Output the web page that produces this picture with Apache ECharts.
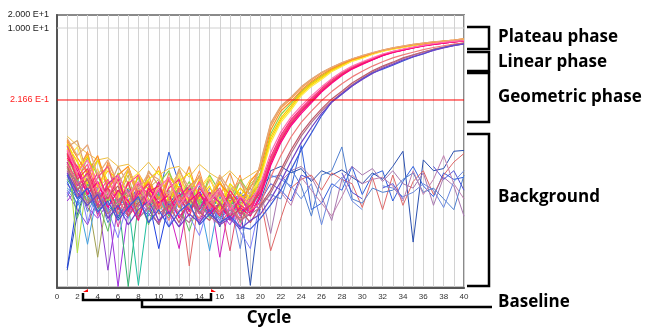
<!DOCTYPE html>
<html><head><meta charset="utf-8">
<script src="https://cdn.jsdelivr.net/npm/echarts@6/dist/echarts.min.js"></script>
<style>html,body{margin:0;padding:0;background:#fff}#c{width:651px;height:327px}</style>
</head><body><div id="c"></div>
<script>
// ---- axis data ----
const cycles = [1,2,3,4,5,6,7,8,9,10,11,12,13,14,15,16,17,18,19,20,21,22,23,24,25,26,27,28,29,30,31,32,33,34,35,36,37,38,39,40];
const xTickLabels = ['0','2','4','6','8','10','12','14','16','18','20','22','24','26','28','30','32','34','36','38','40'];
const yTickValues = [20, 10, 0.2166];
const yTickLabels = ['2.000 E+1', '1.000 E+1', '2.166 E-1'];
const thresholdValue = 0.2166;

// ---- amplification curves, log10(fluorescence) per cycle 1..40 ----
const amp01 = [-1.62,-2.25,-1.90,-2.70,-2.15,-2.85,-2.30,-2.95,-2.40,-3.10,-2.35,-2.80,-2.20,-3.05,-2.50,-2.90,-2.35,-3.00,-2.70,-2.20,-1.27,-0.85,-0.64,-0.39,-0.20,-0.04,0.08,0.19,0.28,0.35,0.42,0.49,0.54,0.58,0.62,0.65,0.68,0.70,0.72,0.75];
const amp02 = [-1.75,-1.60,-2.40,-2.05,-2.75,-2.20,-2.60,-3.10,-2.30,-2.65,-2.95,-2.25,-2.85,-2.40,-3.15,-2.45,-2.90,-2.55,-3.05,-2.10,-1.20,-0.80,-0.60,-0.36,-0.18,-0.03,0.09,0.19,0.28,0.36,0.42,0.48,0.53,0.57,0.61,0.64,0.67,0.69,0.71,0.74];
const amp03 = [-1.90,-2.55,-2.00,-2.40,-3.00,-2.35,-2.90,-2.45,-3.20,-2.60,-2.30,-2.95,-2.55,-3.10,-2.40,-2.80,-3.15,-2.50,-2.85,-2.35,-1.45,-1.00,-0.75,-0.47,-0.27,-0.11,0.04,0.15,0.25,0.33,0.40,0.47,0.52,0.56,0.60,0.63,0.66,0.69,0.71,0.74];
const amp04 = [-1.68,-2.10,-2.60,-2.05,-2.55,-2.95,-2.25,-2.80,-2.50,-2.30,-3.05,-2.55,-2.35,-2.95,-2.65,-3.20,-2.60,-2.85,-3.10,-2.45,-1.59,-1.13,-0.85,-0.53,-0.32,-0.16,0.01,0.12,0.24,0.31,0.40,0.47,0.51,0.56,0.61,0.64,0.66,0.69,0.71,0.73];
const amp05 = [-1.80,-2.35,-1.95,-2.65,-2.30,-2.50,-3.05,-2.40,-2.75,-3.15,-2.45,-2.70,-3.00,-2.50,-2.85,-2.55,-3.05,-2.70,-2.95,-2.40,-1.52,-1.08,-0.80,-0.50,-0.29,-0.13,0.03,0.14,0.25,0.32,0.41,0.47,0.52,0.56,0.60,0.64,0.66,0.69,0.71,0.73];
const amp06 = [-2.05,-1.75,-2.45,-2.80,-2.20,-2.95,-2.55,-2.35,-3.00,-2.65,-2.90,-2.40,-3.10,-2.75,-2.45,-3.00,-2.65,-3.25,-2.80,-2.50,-1.66,-1.18,-0.90,-0.57,-0.35,-0.19,-0.01,0.11,0.23,0.30,0.39,0.46,0.51,0.55,0.60,0.63,0.66,0.68,0.71,0.73];
const amp07 = [-1.58,-2.00,-2.35,-1.95,-2.70,-2.40,-2.20,-2.85,-2.55,-2.95,-2.50,-3.15,-2.65,-2.45,-2.90,-2.60,-2.85,-3.20,-2.55,-2.25,-1.36,-0.92,-0.70,-0.44,-0.24,-0.08,0.06,0.17,0.27,0.34,0.41,0.48,0.53,0.57,0.61,0.64,0.67,0.70,0.72,0.75];
const amp08 = [-1.85,-2.45,-2.15,-2.85,-2.50,-3.05,-2.60,-2.40,-3.10,-2.75,-3.30,-2.70,-2.95,-2.55,-3.20,-2.80,-3.35,-2.95,-3.15,-2.75,-2.05,-1.54,-1.17,-0.90,-0.66,-0.43,-0.23,-0.06,0.08,0.19,0.28,0.38,0.45,0.50,0.55,0.60,0.63,0.66,0.69,0.70];
const amp09 = [-1.95,-2.20,-2.75,-2.35,-2.95,-2.50,-3.20,-2.85,-2.60,-3.15,-2.70,-2.50,-3.25,-2.85,-3.05,-3.35,-2.75,-3.10,-3.25,-2.65,-1.98,-1.48,-1.12,-0.86,-0.62,-0.40,-0.20,-0.04,0.10,0.20,0.29,0.38,0.45,0.50,0.55,0.59,0.63,0.66,0.68,0.70];
const amp10 = [-2.10,-2.65,-2.35,-3.10,-2.60,-2.40,-3.25,-2.75,-3.05,-2.55,-3.30,-2.90,-2.65,-3.20,-2.80,-3.05,-3.40,-2.90,-3.30,-2.85,-2.12,-1.60,-1.22,-0.94,-0.70,-0.46,-0.26,-0.08,0.06,0.17,0.27,0.36,0.44,0.49,0.54,0.59,0.62,0.65,0.68,0.70];
const amp11 = [-1.72,-2.30,-2.85,-2.45,-2.20,-2.95,-3.35,-2.60,-2.85,-3.20,-2.50,-3.00,-2.75,-3.30,-2.95,-2.70,-3.15,-3.40,-2.95,-2.70,-2.02,-1.52,-1.15,-0.88,-0.65,-0.42,-0.22,-0.05,0.09,0.19,0.28,0.37,0.45,0.50,0.55,0.60,0.63,0.66,0.69,0.70];
const amp12 = [-1.90,-2.50,-2.25,-2.95,-2.70,-3.20,-2.55,-3.40,-2.80,-2.65,-3.15,-2.85,-3.35,-2.70,-3.05,-3.25,-2.85,-3.30,-3.10,-2.80,-2.10,-1.58,-1.20,-0.92,-0.68,-0.45,-0.25,-0.07,0.07,0.18,0.27,0.37,0.44,0.49,0.54,0.59,0.62,0.65,0.68,0.70];
const amp13 = [-2.00,-2.30,-2.85,-2.55,-3.15,-2.75,-3.00,-3.45,-2.70,-3.05,-2.85,-3.40,-3.00,-2.80,-3.30,-3.05,-3.45,-3.15,-3.35,-2.90,-2.18,-1.65,-1.26,-0.98,-0.73,-0.48,-0.28,-0.10,0.05,0.16,0.26,0.36,0.43,0.49,0.54,0.58,0.62,0.65,0.68,0.70];
const amp14 = [-2.15,-2.60,-2.40,-3.05,-2.75,-3.30,-2.85,-2.65,-3.20,-2.95,-3.45,-2.90,-3.15,-3.40,-2.95,-3.25,-3.05,-3.45,-3.20,-3.05,-2.45,-1.95,-1.52,-1.18,-0.92,-0.68,-0.47,-0.29,-0.13,0.00,0.12,0.22,0.31,0.38,0.44,0.50,0.55,0.59,0.63,0.66];
const amp15 = [-2.20,-2.75,-2.50,-3.15,-2.90,-2.65,-3.35,-3.05,-2.80,-3.30,-3.10,-3.50,-2.95,-3.25,-3.45,-3.05,-3.35,-3.20,-3.50,-3.10,-2.75,-2.28,-1.82,-1.43,-1.13,-0.87,-0.64,-0.46,-0.27,-0.13,0.01,0.12,0.21,0.31,0.38,0.45,0.51,0.56,0.61,0.65];
const amp16 = [-2.30,-2.55,-3.05,-2.80,-3.30,-3.00,-2.75,-3.40,-3.15,-3.55,-3.00,-3.30,-3.50,-3.10,-3.35,-3.55,-3.20,-3.45,-3.30,-3.15,-2.82,-2.36,-1.90,-1.50,-1.19,-0.92,-0.69,-0.50,-0.31,-0.16,-0.02,0.10,0.19,0.29,0.37,0.44,0.50,0.55,0.60,0.64];
const amp17 = [-2.40,-2.95,-2.70,-3.25,-3.00,-3.45,-3.15,-2.90,-3.50,-3.20,-3.60,-3.25,-3.05,-3.55,-3.30,-3.50,-3.35,-3.60,-3.65,-3.40,-3.09,-2.75,-2.28,-1.82,-1.43,-1.03,-0.71,-0.53,-0.34,-0.18,-0.04,0.05,0.14,0.24,0.33,0.40,0.49,0.55,0.60,0.63];
const amp18 = [-2.35,-2.80,-3.10,-2.85,-3.40,-3.10,-3.55,-3.20,-3.00,-3.45,-3.25,-3.60,-3.30,-3.50,-3.20,-3.55,-3.40,-3.65,-3.45,-3.30,-2.95,-2.55,-2.08,-1.65,-1.30,-0.98,-0.72,-0.52,-0.34,-0.19,-0.05,0.07,0.16,0.26,0.34,0.41,0.48,0.54,0.59,0.63];
const amp19 = [-1.55,-1.95,-1.70,-2.40,-2.05,-2.60,-2.25,-2.75,-2.35,-2.50,-2.90,-2.30,-2.70,-2.45,-2.95,-2.40,-2.75,-2.55,-2.85,-2.15,-1.22,-0.82,-0.62,-0.37,-0.19,-0.03,0.09,0.20,0.29,0.36,0.43,0.49,0.54,0.58,0.62,0.65,0.68,0.70,0.72,0.75];
const amp20 = [-1.82,-2.35,-2.05,-2.60,-2.90,-2.40,-2.85,-2.55,-3.05,-2.70,-2.45,-3.10,-2.80,-2.60,-3.00,-2.75,-3.20,-2.90,-3.05,-2.60,-1.88,-1.40,-1.06,-0.80,-0.57,-0.36,-0.17,-0.01,0.12,0.22,0.31,0.40,0.46,0.51,0.56,0.60,0.64,0.67,0.69,0.71];

// ---- non-amplifying / background wells, log10(fluorescence), null = no value ----
const bg01 = [-2.55,-3.10,-2.85,-3.30,-2.95,-3.20,-2.70,-3.05,-3.35,-2.90,-1.87,-2.60,-3.10,-2.75,-3.25,-2.90,-3.40,-2.80,-3.15,-2.62,-2.45,-2.40,-2.70,-1.72,-3.20,-3.05,-2.60,-2.75,-2.20,-2.85,-2.40,-2.30,-3.00,-2.55,-2.20,-2.65,-2.90,-2.35,-2.50,-2.45];
const bg02 = [-4.60,-3.30,-2.60,-3.05,-2.75,-3.40,-3.00,-2.80,-3.20,-3.55,-2.85,-3.15,-2.70,-3.30,-2.95,-3.60,-2.85,-3.10,-4.95,-3.00,-2.30,-2.20,-2.35,-2.25,-2.55,-2.30,-2.40,-2.28,-2.45,-2.60,-2.35,-2.50,-2.20,-1.85,-3.95,-2.05,-2.30,-2.25,-1.85,-1.83];
const bg03 = [-2.35,-2.70,-3.00,-2.65,-3.40,-2.85,-3.15,-2.60,-2.95,-3.25,-2.75,-3.05,-2.85,-3.20,-2.70,-3.00,-3.30,-2.90,-3.20,-2.75,-3.75,-2.55,-2.30,-2.20,-2.45,-2.90,-3.45,-2.50,-2.20,-2.40,-2.25,-2.55,-2.30,-2.60,-2.70,-2.35,-3.10,-2.45,-2.65,-3.35];
const bg04 = [-2.20,-2.55,-2.90,-3.20,-2.70,-3.00,-2.80,-3.30,-2.65,-3.05,-2.95,-2.70,-4.50,-2.85,-3.15,-2.75,-3.00,-3.25,-2.85,-2.95,-4.15,-3.40,-2.70,-2.50,-2.40,-2.75,-2.35,-2.50,-2.60,-3.15,-2.45,-3.20,-2.40,-3.10,-2.55,-2.30,-2.85,-2.40,-2.10,-1.90];
const bg05 = [-2.90,-2.50,-3.25,-2.80,-3.50,-3.05,-2.75,-3.35,-2.85,-3.10,-3.40,-2.70,-3.00,-3.30,-2.80,-3.15,-2.65,-3.05,-2.90,-3.10,-2.85,-2.95,-2.25,-2.65,-3.35,-2.40,-2.30,-1.75,-2.95,-3.05,-2.70,-2.80,-2.75,-2.50,-2.35,-2.80,-2.70,-2.95,-3.20,-2.40];
const bg06 = [-2.60,-2.95,-2.45,-3.15,-2.85,-3.35,-3.00,-2.70,-3.20,-2.80,-3.10,-2.90,-3.25,-2.65,-3.00,-2.80,-3.20,-2.95,-2.70,-3.00,-2.60,-2.75,-3.00,-2.40,-2.50,null,null,-2.35,-2.80,-2.95,null,-2.70,-2.60,-2.95,null,null,-2.20,-2.50,-2.30,-2.75];
const bg07 = [-2.75,-3.05,-2.80,-3.25,-2.95,-3.15,-3.40,-2.90,-3.10,-2.85,-3.30,-3.00,-3.20,-2.90,-3.05,-3.35,-3.00,-4.10,-2.90,-2.55,-2.40,-2.50,-2.65,-2.95,-2.60,-3.55,-2.70,-2.45,-3.00,-3.20,null,-2.65,-2.70,-2.90,-2.80,-2.60,-2.75,-3.15,-2.55,-2.30];
const bg08 = [-2.45,-2.80,-3.05,-2.70,-3.20,-2.90,-3.10,-2.80,-3.25,-2.95,-2.75,-3.10,-2.90,-3.30,-3.00,-2.85,-3.15,-2.95,-2.80,-2.90,-3.00,-2.80,-3.10,-2.45,-2.75,-3.05,-3.35,-2.90,-2.40,-2.60,-2.50,-2.45,-2.65,-3.00,-2.30,-2.85,-2.50,-1.95,-2.60,-2.95];
const bg09 = [-2.80,-3.20,-3.55,-2.95,-4.60,-3.10,-3.35,-2.90,-3.50,-3.00,-3.25,-3.60,-2.95,-3.30,-3.10,-3.45,-2.90,-3.35,-3.05,-3.20];
const bg10 = [-3.00,-2.70,-3.15,-3.40,-3.05,-4.98,-3.20,-2.95,-3.30,-3.50,-3.05,-3.35,-3.15,-3.45,-3.00,-3.25,-3.55,-3.10,-3.30,-3.00];
const bg11 = [-2.50,-2.85,-3.10,-2.75,-3.25,-2.95,-4.98,-3.05,-2.80,-3.20,-3.00,-2.70,-3.15,-2.90,-3.30,-2.85,-3.10,-2.95,-3.20,-2.70];
const bg12 = [-2.40,-2.75,-2.95,-3.20,-2.85,-3.30,-3.05,-4.95,-3.15,-2.90,-3.35,-3.00,-2.80,-3.25,-3.05,-3.40,-2.85,-3.15,-3.00,-2.85];
const bg13 = [-2.25,-2.60,-2.90,-4.30,-2.80,-3.10,-2.75,-3.00,-2.85,-3.20,-2.95,-2.70,-3.05,-2.85,-3.15,-2.90,-2.75,-3.05,-2.90,-2.60];
const bg14 = [-4.55,-3.00,-2.70,-3.15,-2.90,-3.30,-2.85,-3.10,-2.95,-4.10,-3.05,-2.80,-3.20,-2.95,-3.35,-3.00,-2.90,-3.25,-3.10,-2.80];
const bg15 = [-2.15,-2.50,-2.80,-2.60,-3.00,-2.75,-3.10,-2.85,-3.05,-2.70,-3.20,-4.10,-2.90,-3.15,-2.80,-4.30,-3.00,-2.85,-3.25,-2.65];
const bg16 = [-1.70,-4.20,-2.40,-2.65,-2.50,-2.85,-2.70,-2.95,-2.60,-2.90,-2.75,-3.00,-2.65,-2.95,-2.80,-3.05,-2.70,-2.90,-2.60,-2.40];
const bg17 = [-2.70,-2.90,-4.00,-2.80,-3.10,-2.90,-3.20,-2.75,-3.05,-2.85,-3.15,-2.95,-2.70,-3.00,-4.15,-2.90,-3.20,-3.00,-2.85,-3.05];
const bg18 = [-2.05,-2.35,-2.65,-2.90,-2.70,-3.00,-2.85,-2.60,-2.95,-3.15,-2.80,-3.05,-2.75,-3.20,-2.90,-3.00,-4.15,-2.85,-3.05,-2.75];
const bg19 = [-1.50,-1.72,-1.90,-2.05,-2.00,-2.20,-2.15,-2.35,-2.10,-2.40,-2.25,-2.20,-2.45,-2.15,-2.35,-2.50,-2.30,-2.55,-2.40,-2.25];
const bg20 = [-1.65,-2.40,-1.85,-2.90,-2.10,-2.60,-3.20,-2.35,-2.75,-2.20,-3.00,-2.45,-2.85,-2.30,-3.10,-2.55,-2.95,-2.40,-3.25,-2.60];
const bg21 = [-1.80,-2.05,-2.70,-2.25,-3.05,-2.40,-2.20,-2.95,-2.50,-3.25,-2.65,-2.35,-3.00,-2.70,-2.40,-3.15,-2.60,-2.90,-2.50,-2.35];
const bg22 = [-2.30,-2.90,-2.45,-3.35,-2.65,-3.60,-2.85,-3.15,-2.70,-3.50,-2.95,-3.25,-2.75,-3.55,-2.90,-3.30,-3.00,-3.60,-2.95,-3.20];
const bg23 = [-2.10,-3.40,-2.60,-3.00,-3.70,-2.75,-3.25,-2.90,-3.55,-2.80,-3.35,-3.05,-3.70,-2.95,-3.40,-3.10,-2.85,-3.50,-3.00,-2.90];
const bg24 = [-2.85,-2.40,-3.50,-2.70,-3.20,-3.85,-2.95,-3.40,-3.10,-2.75,-3.60,-3.00,-3.35,-3.80,-3.05,-3.45,-3.15,-3.70,-4.10,-3.00];
const bg25 = [-1.95,-2.75,-2.30,-3.10,-2.55,-2.95,-2.40,-3.30,-2.70,-2.50,-3.20,-2.65,-3.05,-2.55,-2.85,-3.35,-2.75,-3.10,-2.65,-2.50];

const ampCurves = [amp01,amp02,amp03,amp04,amp05,amp06,amp07,amp08,amp09,amp10,amp11,amp12,amp13,amp14,amp15,amp16,amp17,amp18,amp19,amp20];
const ampColors = ['#f39a4a','#d9a066','#8fd24a','#f5e200','#ffc800','#ffe94a','#ff9020','#ff4f8f','#ff1f7a','#e6179b','#f0508a','#f03060','#ff0080','#f07a7a','#c05a6a','#b0708a','#3c5ad8','#7040c8','#e8a878','#ff70b0'];
const bgCurves = [bg01,bg02,bg03,bg04,bg05,bg06,bg07,bg08,bg09,bg10,bg11,bg12,bg13,bg14,bg15,bg16,bg17,bg18,bg19,bg20,bg21,bg22,bg23,bg24,bg25];
const bgColors = ['#3060e0','#2a50b0','#a878b0','#e06868','#5080d0','#5050d8','#6a8ae0','#c080b0','#9040d0','#a030e0','#30b070','#20c0a0','#a0a050','#2040e0','#d020c0','#b0e040','#40a0e0','#e05070','#f0c040','#ff8c40','#ffd040','#e040a0','#60c060','#8080ff','#c8b040'];

function toSeries(arr, color, width) {
  return {
    type: 'line', silent: true, symbol: 'none', animation: false,
    connectNulls: false,
    lineStyle: { color: color, width: width },
    itemStyle: { color: color },
    data: arr.map((e, i) => [cycles[i], e === null ? '-' : Math.pow(10, e)])
  };
}

const series = [];
// grey gridline at 1.000 E+1 (drawn under the curves)
series.push({
  type: 'line', silent: true, symbol: 'none', animation: false, z: 1,
  lineStyle: { color: '#d0d0d0', width: 1 }, itemStyle: { color: '#d0d0d0' },
  data: [[0, yTickValues[1]], [40, yTickValues[1]]]
});
bgCurves.forEach((a, i) => series.push(toSeries(a, bgColors[i], 1)));
ampCurves.forEach((a, i) => series.push(toSeries(a, ampColors[i], 1.2)));
// red threshold line
series.push({
  type: 'line', silent: true, symbol: 'none', animation: false, z: 5,
  lineStyle: { color: '#ff0000', width: 1 }, itemStyle: { color: '#ff0000' },
  data: [[0, thresholdValue], [40, thresholdValue]]
});

const bold = 'bold 17px "Open Sans"';
const bracket = (pts) => ({ type: 'polyline', shape: { points: pts }, style: { stroke: '#000', lineWidth: 2.5, fill: null }, z: 100 });
const txt = (t, x, y) => ({ type: 'text', x: x, y: y, style: { text: t, font: bold, fill: '#000', align: 'left', verticalAlign: 'middle' }, z: 100 });

const chart = echarts.init(document.getElementById('c'), null, { renderer: 'canvas', width: 651, height: 327 });
chart.setOption({
  animation: false,
  backgroundColor: '#fff',
  grid: { left: 57, right: 187, top: 15, bottom: 39.5, show: true, borderColor: '#8a8a8a', borderWidth: 2, backgroundColor: '#fff' },
  xAxis: {
    type: 'value', min: 0, max: 40, interval: 1,
    axisLine: { show: true, onZero: false, lineStyle: { color: '#555', width: 2 } },
    axisTick: { show: false },
    axisLabel: { margin: 5, fontSize: 8, color: '#333', fontFamily: 'Liberation Sans',
      formatter: v => (v % 2 === 0 ? xTickLabels[v / 2] : '') },
    splitLine: { show: true, lineStyle: { color: '#d2d2d2', width: 1 } }
  },
  yAxis: {
    type: 'log', logBase: 10, min: 0.00001, max: 20,
    axisLine: { show: true, lineStyle: { color: '#555', width: 2 } },
    axisTick: { show: false }, axisLabel: { show: false }, splitLine: { show: false }
  },
  series: series
});

// y tick labels placed through the axis scale
const yLabelGraphics = yTickValues.map((v, i) => ({
  type: 'text', x: 49, y: chart.convertToPixel({ yAxisIndex: 0 }, v),
  style: { text: yTickLabels[i], font: '9px "Liberation Sans"', fill: v === thresholdValue ? '#ff2020' : '#222',
    align: 'right', verticalAlign: 'middle' }, z: 100
}));

chart.setOption({
  graphic: [
    bracket([[467,27],[489,27],[489,49],[467,49]]),
    bracket([[467,52],[489,52],[489,71],[467,71]]),
    bracket([[467,73],[489,73],[489,122],[467,122]]),
    bracket([[467,134],[489,134],[489,286],[467,286]]),
    bracket([[83,293],[83,300],[211,300],[211,293]]),
    bracket([[142,300],[142,307],[492,307]]),
    { type: 'polygon', shape: { points: [[83,292],[88,289],[88,292]] }, style: { fill: '#ff0000' }, z: 101 },
    { type: 'polygon', shape: { points: [[211,289],[216,292],[211,292]] }, style: { fill: '#ff0000' }, z: 101 },
    txt('Plateau phase', 498, 37),
    txt('Linear phase', 498, 62),
    txt('Geometric phase', 498, 97),
    txt('Background', 498, 197),
    txt('Baseline', 498, 302),
    { type: 'text', x: 269, y: 318, style: { text: 'Cycle', font: bold, fill: '#000', align: 'center', verticalAlign: 'middle' }, z: 100 }
  ].concat(yLabelGraphics)
});
</script>
</body></html>
